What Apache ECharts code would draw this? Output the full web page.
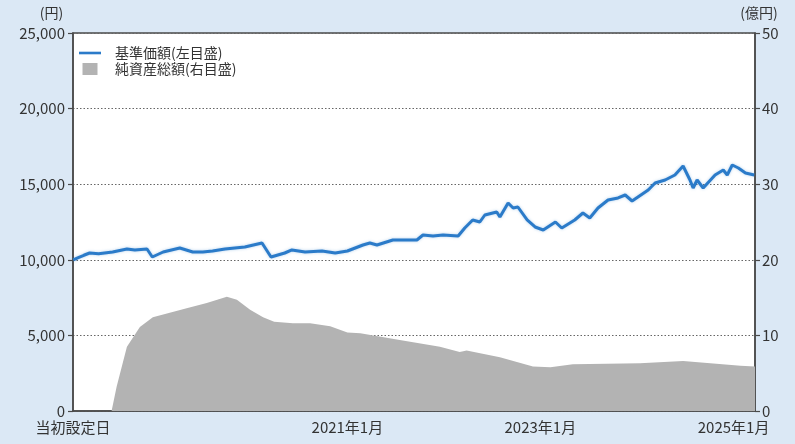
<!DOCTYPE html>
<html><head><meta charset="utf-8">
<script src="https://cdn.jsdelivr.net/npm/echarts@6/dist/echarts.min.js"></script>
<style>html,body{margin:0;padding:0;background:#dbe8f5;}#c{width:795px;height:444px;}</style>
</head><body><div id="c"></div>
<script>
// 基準価額（円）
const navDates = ['2018-03-01','2018-03-20','2018-04-10','2018-05-02','2018-06-05','2018-07-28','2018-09-20','2018-10-20','2018-12-05','2018-12-25','2019-02-04','2019-04-08','2019-05-27','2019-07-04','2019-08-10','2019-09-26','2019-12-10','2020-02-13','2020-03-18','2020-05-09','2020-06-05','2020-07-25','2020-09-27','2020-11-16','2021-01-01','2021-03-01','2021-03-27','2021-04-23','2021-06-22','2021-09-21','2021-10-14','2021-11-21','2021-12-29','2022-02-24','2022-03-21','2022-04-20','2022-05-17','2022-06-05','2022-07-20','2022-08-01','2022-09-01','2022-09-20','2022-10-08','2022-11-12','2022-12-12','2023-01-12','2023-02-27','2023-03-23','2023-05-11','2023-06-11','2023-07-07','2023-08-07','2023-09-14','2023-10-22','2023-11-18','2023-12-14','2024-02-13','2024-03-10','2024-04-17','2024-05-24','2024-06-24','2024-07-20','2024-08-01','2024-08-16','2024-09-08','2024-10-23','2024-11-23','2024-12-08','2024-12-27','2025-01-19','2025-02-15','2025-03-20'];
const navValues = [10000,10150,10300,10450,10400,10516,10715,10650,10715,10185,10516,10780,10516,10516,10580,10715,10847,11112,10185,10450,10649,10516,10582,10450,10582,10980,11112,10980,11310,11310,11640,11575,11640,11575,12104,12633,12500,12963,13162,12831,13757,13426,13492,12633,12170,11971,12500,12104,12633,13096,12765,13426,13956,14088,14286,13889,14617,15080,15278,15609,16204,15278,14749,15278,14749,15609,15940,15609,16270,16072,15741,15609];
// 純資産総額（億円）
const assetDates = ['2018-03-01','2018-07-24','2018-08-12','2018-09-20','2018-11-08','2018-12-27','2019-03-01','2019-05-04','2019-07-19','2019-10-03','2019-11-10','2019-12-30','2020-02-17','2020-03-30','2020-06-09','2020-08-13','2020-10-28','2021-01-01','2021-02-19','2021-07-18','2021-12-17','2022-03-02','2022-03-28','2022-08-01','2022-12-04','2023-02-08','2023-05-04','2024-01-13','2024-06-24','2025-01-27','2025-03-23'];
const assetValues = [0,0,3.2,8.5,11.1,12.4,13.0,13.6,14.3,15.1,14.7,13.4,12.4,11.8,11.6,11.6,11.2,10.4,10.3,9.4,8.5,7.8,8.0,7.1,5.9,5.8,6.2,6.3,6.6,6.0,5.9];
// 軸ラベル
const xStart = '2018-02-28', xEnd = '2025-03-23';
const xTickDates = ['2021-01-01','2023-01-01','2025-01-01'];
const xTickLabels = ['2021年1月','2023年1月','2025年1月'];
const startLabel = '当初設定日';
const seriesNames = ['基準価額(左目盛)','純資産総額(右目盛)'];

const ts = d => echarts.number.parseDate(d).getTime();
const labelMap = {};
labelMap[ts(xStart)] = startLabel;
xTickDates.forEach((d,i)=>{ labelMap[ts(d)] = xTickLabels[i]; });

const FONT = '"Noto Sans CJK JP", "Noto Sans", sans-serif';
const TXT = '#333';
const AX = '#4a4a4a';
const chart = echarts.init(document.getElementById('c'));
chart.setOption({
  animation: false,
  backgroundColor: '#dbe8f5',
  textStyle: {fontFamily: FONT, color: TXT},
  grid: {left: 73, right: 40, top: 33, bottom: 33, show: true, backgroundColor: '#ffffff', borderColor: AX, borderWidth: 1.5},
  legend: {
    orient: 'vertical', left: 74, top: 41, itemWidth: 22, itemHeight: 12, itemGap: 2,
    textStyle: {fontSize: 14, color: TXT, fontFamily: FONT, padding: [0,0,0,9]},
    data: [
      {name: seriesNames[0], icon: 'path://M0,0L22,0L22,2.6L0,2.6Z'},
      {name: seriesNames[1], icon: 'path://M0,0L15,0L15,12L0,12Z'}
    ]
  },
  xAxis: {
    type: 'value', min: ts(xStart), max: ts(xEnd),
    axisLine: {lineStyle: {color: AX, width: 1.5}},
    axisTick: {show: true, inside: true, length: 5, lineStyle: {color: AX, width: 1.2}, customValues: xTickDates.map(ts)},
    axisLabel: {
      customValues: [ts(xStart)].concat(xTickDates.map(ts)),
      formatter: v => labelMap[v] || '',
      fontSize: 15, color: TXT, margin: 9, fontFamily: FONT
    },
    splitLine: {show: false}
  },
  yAxis: [
    {
      type: 'value', min: 0, max: 25000, interval: 5000, position: 'left',
      name: '(円)', nameLocation: 'end', nameGap: 20,
      nameTextStyle: {fontSize: 14, color: TXT, align: 'center', verticalAlign: 'middle', padding: [0, 43, 0, 0]},
      axisLine: {show: true, lineStyle: {color: AX, width: 1.5}},
      axisTick: {show: true, length: 5, lineStyle: {color: AX, width: 1.2}},
      axisLabel: {fontSize: 15, color: TXT, margin: 8, formatter: v => v.toLocaleString('en-US')},
      splitLine: {show: true, lineStyle: {color: '#666', type: [1.5, 2], width: 1.2}}
    },
    {
      type: 'value', min: 0, max: 50, interval: 10, position: 'right',
      name: '(億円)', nameLocation: 'end', nameGap: 20,
      nameTextStyle: {fontSize: 14, color: TXT, align: 'center', verticalAlign: 'middle', padding: [0, 0, 0, 8]},
      axisLine: {show: true, lineStyle: {color: AX, width: 1.5}},
      axisTick: {show: true, length: 5, lineStyle: {color: AX, width: 1.2}},
      axisLabel: {fontSize: 15, color: TXT, margin: 7},
      splitLine: {show: false}
    }
  ],
  series: [
    {
      name: seriesNames[1], type: 'line', yAxisIndex: 1, symbol: 'none',
      data: assetDates.map((d,i)=>[ts(d), assetValues[i]]),
      lineStyle: {width: 0, color: '#b3b3b3'},
      itemStyle: {color: '#b3b3b3'},
      areaStyle: {color: '#b3b3b3', opacity: 1},
      z: 1
    },
    {
      name: seriesNames[0], type: 'line', yAxisIndex: 0, symbol: 'none',
      data: navDates.map((d,i)=>[ts(d), navValues[i]]),
      lineStyle: {width: 3, color: '#2b7bc9', shadowColor: 'rgba(43,123,201,0.35)', shadowBlur: 3},
      itemStyle: {color: '#2b7bc9'},
      z: 3
    }
  ]
});
</script></body></html>
